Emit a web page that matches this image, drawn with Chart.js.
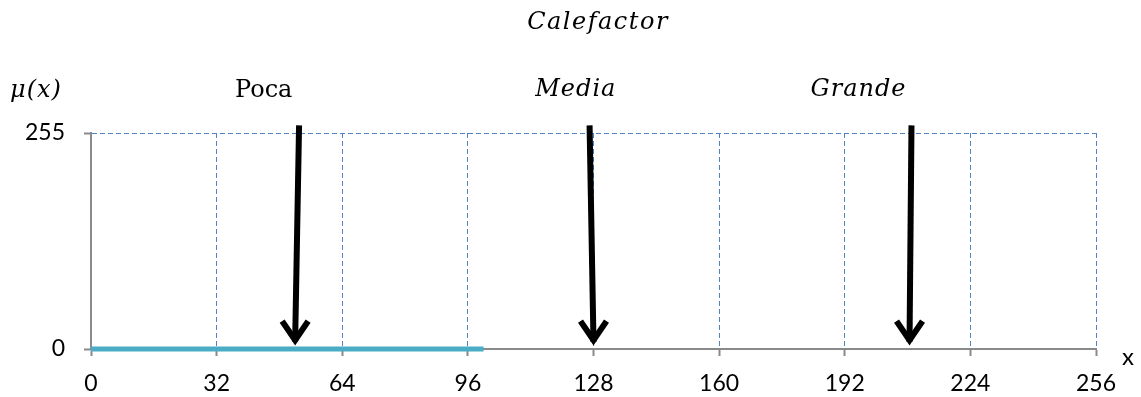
<!DOCTYPE html>
<html>
<head>
<meta charset="utf-8">
<script src="https://cdn.jsdelivr.net/npm/chart.js@4/dist/chart.umd.min.js"></script>
<style>
  html, body { margin: 0; padding: 0; background: #ffffff; }
  #wrap { width: 1141px; height: 397px; position: relative; }
</style>
</head>
<body>
<div id="wrap"><canvas id="chart" width="1141" height="397"></canvas></div>
<script>
// Membership axis: x from 0 to 256, μ(x) from 0 to 255
const xTicks = [0, 32, 64, 96, 128, 160, 192, 224, 256];
const yTicks = [0, 255];

// "Poca" membership segment drawn along the baseline
const pocaX = [0, 100];
const pocaY = [0, 0];

// Crisp output markers (arrows): start x / end x, start y / end y
const arrowLabels = ['Poca', 'Media', 'Grande'];
const arrowStartX = [53, 127, 209];
const arrowEndX = [52, 128, 208.5];
const arrowStartY = 264;
const arrowEndY = 7;

const GRID_BLUE = '#4f81c4';
const AXIS_GRAY = '#8a8a8a';

const datasets = [{
  label: 'Poca',
  data: pocaX.map((x, i) => ({ x: x, y: pocaY[i] })),
  borderColor: '#4bacc6',
  backgroundColor: '#4bacc6',
  borderWidth: 5,
  pointRadius: 0,
  tension: 0,
  clip: false
}];

arrowLabels.forEach((name, i) => {
  datasets.push({
    label: name + ' marker',
    data: [{ x: arrowStartX[i], y: arrowStartY }, { x: arrowEndX[i], y: arrowEndY + 1.5 }],
    borderColor: '#000000',
    borderWidth: 6,
    pointRadius: 0,
    tension: 0,
    clip: false
  });
});

// Arrow heads (open chevrons) at the end of each marker line
const arrowHeads = {
  id: 'arrowHeads',
  afterDatasetsDraw(chart) {
    const { ctx, scales: { x, y } } = chart;
    ctx.save();
    ctx.strokeStyle = '#000000';
    ctx.lineWidth = 6;
    ctx.lineJoin = 'miter';
    ctx.lineCap = 'butt';
    arrowEndX.forEach((ex) => {
      const px = x.getPixelForValue(ex);
      const py = y.getPixelForValue(arrowEndY);
      ctx.beginPath();
      ctx.moveTo(px - 13, py - 22);
      ctx.lineTo(px, py - 3);
      ctx.lineTo(px + 13, py - 22);
      ctx.stroke();
    });
    ctx.restore();
  }
};

// Title, axis names and marker names
const annotations = {
  id: 'annotations',
  afterDraw(chart) {
    const { ctx, scales: { x } } = chart;
    const serif = '"DejaVu Serif", "Liberation Serif", serif';
    ctx.save();
    ctx.fillStyle = '#000000';
    ctx.textBaseline = 'alphabetic';
    ctx.textAlign = 'center';

    ctx.font = 'italic 24px ' + serif;
    ctx.letterSpacing = '1.5px';
    ctx.fillText('Calefactor', 598, 29);

    ctx.letterSpacing = '1px';
    ctx.fillText('μ(x)', 36, 97);
    ctx.fillText('Media', x.getPixelForValue(123.5), 96);
    ctx.fillText('Grande', x.getPixelForValue(195.5), 96);

    ctx.letterSpacing = '0px';
    ctx.font = '24px ' + serif;
    ctx.fillText('Poca', x.getPixelForValue(44), 97);

    ctx.font = '24px Lato, "Open Sans", sans-serif';
    ctx.fillText('x', 1128, 365);
    ctx.restore();
  }
};

const gridColor = (c) => (c.tick && c.tick.value === 0 ? 'rgba(0,0,0,0)' : GRID_BLUE);

const tickFont = { family: 'Lato, "Open Sans", sans-serif', size: 23 };

new Chart(document.getElementById('chart'), {
  type: 'line',
  data: { datasets: datasets },
  plugins: [arrowHeads, annotations],
  options: {
    responsive: false,
    animation: false,
    events: [],
    layout: { padding: { top: 133, right: 45, bottom: 0, left: 0 } },
    plugins: { legend: { display: false }, tooltip: { enabled: false }, title: { display: false } },
    scales: {
      x: {
        type: 'linear',
        min: 0,
        max: 256,
        afterBuildTicks: (s) => { s.ticks = xTicks.map(v => ({ value: v })); },
        afterFit: (s) => { s.height = 48; },
        ticks: { color: '#000000', font: tickFont, padding: 14, maxRotation: 0, autoSkip: false },
        grid: {
          color: gridColor,
          lineWidth: 1,
          drawTicks: true,
          tickLength: 7,
          tickColor: AXIS_GRAY,
          tickWidth: 2,
          tickBorderDash: []
        },
        border: { display: true, color: AXIS_GRAY, width: 2, dash: [5, 3] }
      },
      y: {
        type: 'linear',
        min: 0,
        max: 255,
        afterBuildTicks: (s) => { s.ticks = yTicks.map(v => ({ value: v })); },
        afterFit: (s) => { s.width = 91; },
        ticks: { color: '#000000', font: tickFont, padding: 19 },
        grid: {
          color: gridColor,
          lineWidth: 1,
          drawTicks: true,
          tickLength: 7,
          tickColor: AXIS_GRAY,
          tickWidth: 2,
          tickBorderDash: []
        },
        border: { display: true, color: AXIS_GRAY, width: 2, dash: [5, 3] }
      }
    }
  }
});
</script>
</body>
</html>
